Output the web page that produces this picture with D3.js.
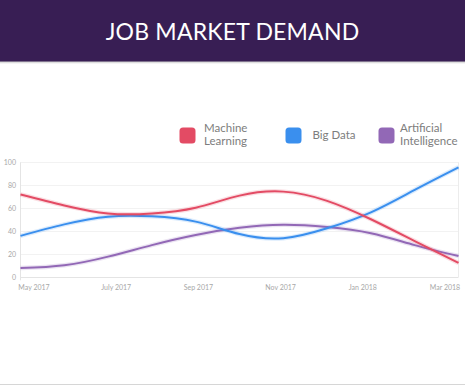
<!DOCTYPE html>
<html>
<head>
<meta charset="utf-8">
<script src="https://cdn.jsdelivr.net/npm/d3@7"></script>
<style>
html,body{margin:0;padding:0;background:#fff;}
svg{display:block;}
</style>
</head>
<body>
<svg id="chart" width="465" height="385"></svg>
<script>
// ---- data ----
const months = ["May 2017","Jun 2017","July 2017","Aug 2017","Sep 2017","Oct 2017","Nov 2017","Dec 2017","Jan 2018","Feb 2018","Mar 2018"];
const tickLabels = ["May 2017","July 2017","Sep 2017","Nov 2017","Jan 2018","Mar 2018"];
const yTicks = [0,20,40,60,80,100];
const seriesNames = ["Machine Learning","Big Data","Artificial Intelligence"];
const machineLearning = [72, 62.5, 55.5, 55.5, 60.5, 71, 74.5, 66.5, 50.5, 31.5, 12.5];
const bigData         = [36, 46, 52.7, 53, 48.4, 37.6, 34, 42.6, 56.5, 76, 95.6];
const artificialIntel = [8, 10.5, 18, 28, 36.8, 43, 45.6, 43.7, 38.3, 28, 18.5];
const colors = ["#e34b64","#3a8fee","#9268b6"];

const svg = d3.select("#chart");

// header
const defs = svg.append("defs");
const grad = defs.append("linearGradient").attr("id","sh").attr("x1",0).attr("x2",0).attr("y1",0).attr("y2",1);
grad.append("stop").attr("offset","0%").attr("stop-color","#bdbdbd");
grad.append("stop").attr("offset","100%").attr("stop-color","#ffffff");
svg.append("rect").attr("x",0).attr("y",61).attr("width",465).attr("height",3).attr("fill","url(#sh)");
svg.append("rect").attr("x",0).attr("y",0).attr("width",465).attr("height",61.5).attr("fill","#381e54");
svg.append("text").attr("x",232.5).attr("y",39.5).attr("text-anchor","middle")
  .attr("fill","#ffffff").attr("font-family","Lato, 'Open Sans', sans-serif")
  .attr("font-size",23).attr("font-weight",400).attr("letter-spacing",0.2)
  .text("JOB MARKET DEMAND");

// bottom border
svg.append("line").attr("x1",0).attr("x2",465).attr("y1",384.5).attr("y2",384.5).attr("stroke","#d6d6d6").attr("stroke-width",1);

// scales
const x = d3.scalePoint().domain(months).range([20.5, 458.5]);
const xLab = d3.scalePoint().domain(tickLabels).range([34, 445]);
const y = d3.scaleLinear().domain([0,100]).range([277.3, 162.3]);

// grid
const g = svg.append("g");
g.selectAll("line.grid").data(yTicks).join("line")
  .attr("x1",20.5).attr("x2",458.5)
  .attr("y1",d=>Math.round(y(d))+0.5).attr("y2",d=>Math.round(y(d))+0.5)
  .attr("stroke",d=>d===0?"#e4e4e4":"#f2f2f2").attr("stroke-width",1);
g.append("line").attr("x1",20.5).attr("x2",20.5).attr("y1",y(100)).attr("y2",y(0)+3)
  .attr("stroke","#e4e4e4");
g.append("line").attr("x1",458.5).attr("x2",458.5).attr("y1",y(100)).attr("y2",y(0))
  .attr("stroke","#ececec");

// y labels
g.selectAll("text.yl").data(yTicks).join("text")
  .attr("x",16).attr("y",d=>y(d)+2.5).attr("text-anchor","end")
  .attr("font-family","Lato, 'Open Sans', sans-serif").attr("font-size",7).attr("fill","#a8a8a8")
  .text(d=>d);

// x labels
g.selectAll("text.xl").data(tickLabels).join("text")
  .attr("x",d=>xLab(d)).attr("y",289.5).attr("text-anchor","middle")
  .attr("font-family","Lato, 'Open Sans', sans-serif").attr("font-size",7).attr("fill","#a8a8a8")
  .text(d=>d);

// lines
const allSeries = [machineLearning, bigData, artificialIntel];
const line = d3.line().x((d,i)=>x(months[i])).y(d=>y(d)).curve(d3.curveNatural);
// order: draw purple, blue, red
[2,1,0].forEach(k=>{
  svg.append("path").datum(allSeries[k]).attr("d",line)
    .attr("fill","none").attr("stroke",colors[k]).attr("stroke-opacity",0.18).attr("stroke-width",4.5);
  svg.append("path").datum(allSeries[k]).attr("d",line)
    .attr("fill","none").attr("stroke",colors[k]).attr("stroke-width",2);
});

// legend
const legendItems = [
  {name:seriesNames[0], lines:["Machine","Learning"], sx:179.5, tx:204},
  {name:seriesNames[1], lines:["Big Data"], sx:285.5, tx:312.5},
  {name:seriesNames[2], lines:["Artificial","Intelligence"], sx:378.5, tx:400}
];
const lg = svg.append("g");
legendItems.forEach((it,i)=>{
  lg.append("rect").attr("x",it.sx).attr("y",127.5).attr("width",16).attr("height",16)
    .attr("rx",3.5).attr("fill",colors[i]);
  const t = lg.append("text").attr("font-family","Lato, 'Open Sans', sans-serif")
    .attr("font-size",11.5).attr("fill","#7d7d7d");
  if(it.lines.length===1){
    t.append("tspan").attr("x",it.tx).attr("y",139).text(it.lines[0]);
  } else {
    t.append("tspan").attr("x",it.tx).attr("y",132).text(it.lines[0]);
    t.append("tspan").attr("x",it.tx).attr("y",145).text(it.lines[1]);
  }
});
</script>
</body>
</html>
